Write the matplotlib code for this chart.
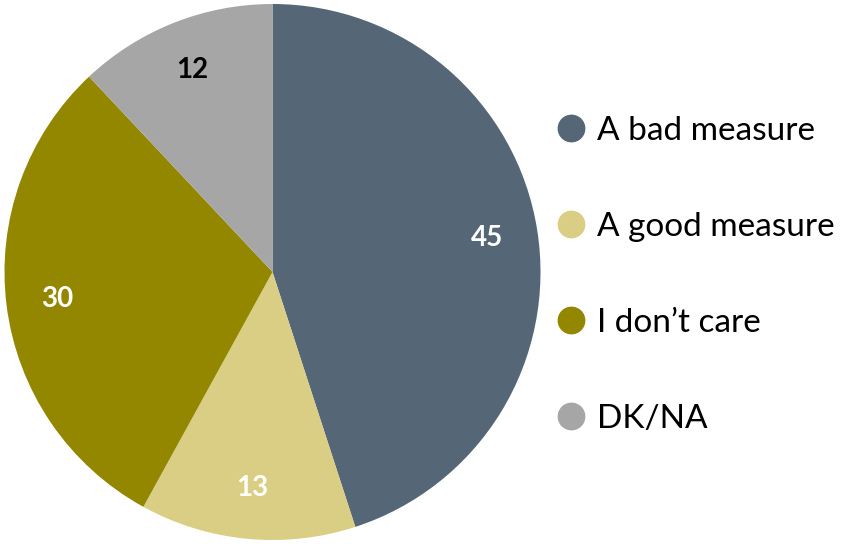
import matplotlib.pyplot as plt
import matplotlib.lines as mlines
import matplotlib as mpl

mpl.rcParams["font.family"] = ["Lato", "DejaVu Sans"]

labels = ["A bad measure", "A good measure", "I don\u2019t care", "DK/NA"]
values = [45, 13, 30, 12]
colors = ["#556677", "#D9CE84", "#938700", "#A6A6A6"]
text_colors = ["white", "white", "white", "black"]

fig = plt.figure(figsize=(8.45, 5.44), dpi=100)
ax = fig.add_axes([4 / 845, 4 / 544, 537 / 845, 536 / 544])

wedges, texts, autotexts = ax.pie(
    values,
    colors=colors,
    startangle=90,
    counterclock=False,
    autopct="%d",
    pctdistance=0.81,
    wedgeprops={"linewidth": 0},
)
for t, c in zip(autotexts, text_colors):
    t.set_color(c)
    t.set_fontsize(20)
    t.set_fontweight("bold")
ax.set_xlim(-1, 1)
ax.set_ylim(-1, 1)
ax.set_aspect("equal")

handles = [
    mlines.Line2D([], [], color=c, marker="o", linestyle="", markersize=19)
    for c in colors
]
fig.legend(
    handles,
    labels,
    loc="center left",
    bbox_to_anchor=(524 / 845, 0.495),
    frameon=False,
    fontsize=24,
    labelspacing=1.98,
    handletextpad=0.3,
    handlelength=1.0,
)

plt.savefig("out.png", dpi=100)
plt.close()
